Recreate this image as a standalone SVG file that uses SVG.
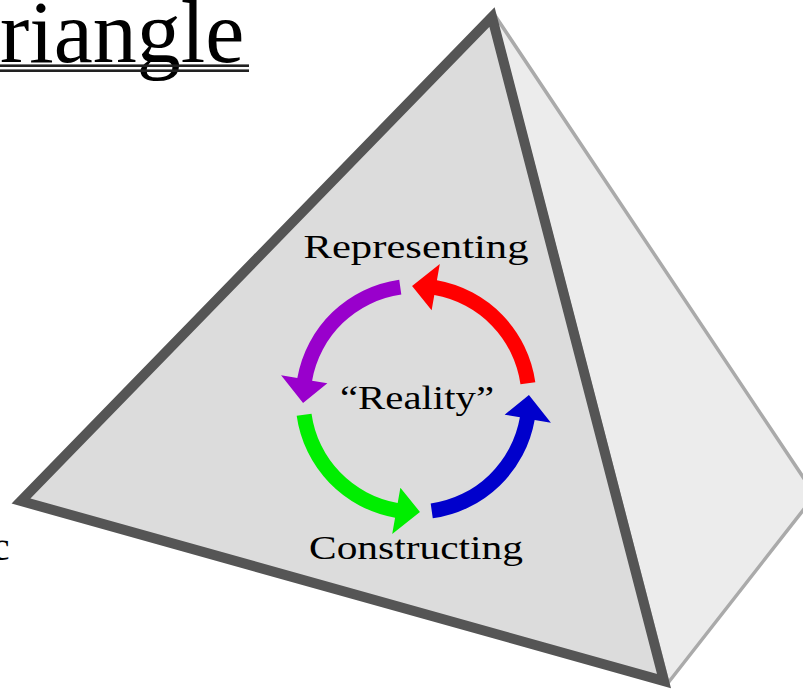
<svg xmlns="http://www.w3.org/2000/svg" width="803" height="692" viewBox="0 0 803 692">
  <style>
    .serif { font-family: "Liberation Serif", "Times New Roman", serif; fill: #000; }
    .label { font-size: 34px; }
  </style>
  <defs>
    <path id="arc-arrow" d="M 535.33 382.23 A 120.5 120.5 0 0 0 436.92 280.33 L 439.79 264.08 L 412.06 286.07 L 431.63 310.37 L 434.32 295.10 A 105.5 105.5 0 0 1 520.48 384.31 Z"/>
  </defs>
  <rect width="803" height="692" fill="#ffffff"/>

  <g id="title">
    <text class="serif" x="0" y="62" font-size="88">riangle</text>
    <rect x="0" y="64.4" width="249" height="2.6" fill="#222"/>
    <rect x="0" y="69.4" width="249" height="2.6" fill="#222"/>
  </g>

  <g id="left-fragment">
    <text class="serif" x="9.5" y="560" font-size="40" text-anchor="end">c</text>
  </g>

  <g id="pyramid">
    <polygon id="back-face" points="494,14 815,495 668,683" fill="#ececec" stroke="#aaaaaa" stroke-width="3.5" stroke-linejoin="miter"/>
    <polygon id="front-face" points="492,17 21,501 664,681" fill="#dcdcdc" stroke="#555555" stroke-width="10" stroke-linejoin="miter" stroke-miterlimit="10"/>
  </g>

  <g id="connectors">
    <use href="#arc-arrow" fill="#ff0000"/>
    <use href="#arc-arrow" fill="#9900cc" transform="rotate(-90 416 399)"/>
    <use href="#arc-arrow" fill="#00ee00" transform="rotate(180 416 399)"/>
    <use href="#arc-arrow" fill="#0000cc" transform="rotate(90 416 399)"/>
  </g>

  <g id="node-representing">
    <text class="serif label" x="303.5" y="258" textLength="225" lengthAdjust="spacingAndGlyphs">Representing</text>
  </g>
  <g id="node-reality">
    <text class="serif label" x="340" y="409" textLength="154" lengthAdjust="spacingAndGlyphs">“Reality”</text>
  </g>
  <g id="node-constructing">
    <text class="serif label" x="309" y="559" textLength="214" lengthAdjust="spacingAndGlyphs">Constructing</text>
  </g>
</svg>
